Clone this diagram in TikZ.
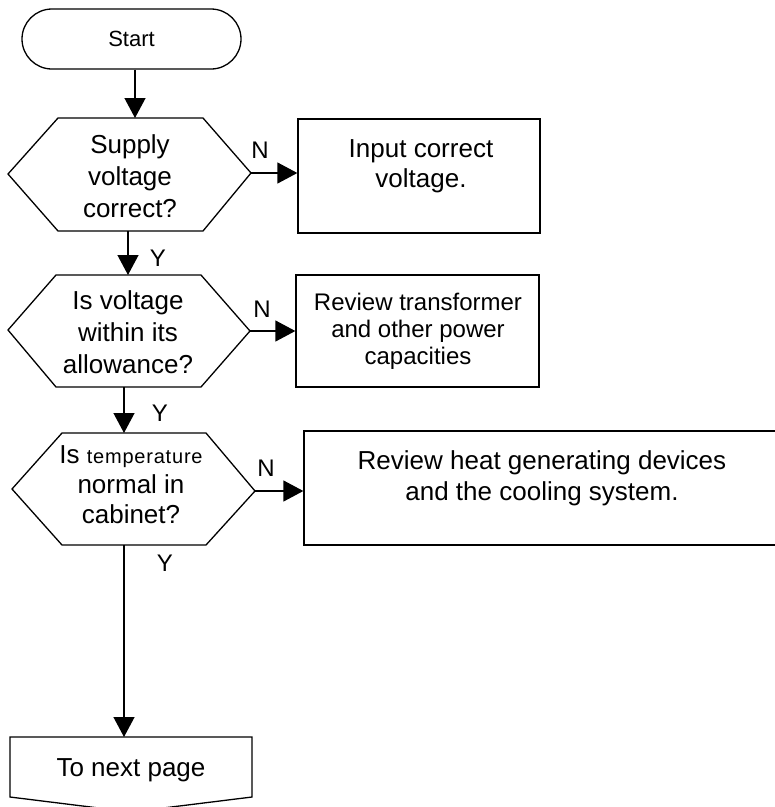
\documentclass[tikz,border=0pt]{standalone}
\usepackage{fontspec}
\setmainfont{Liberation Sans}
\usetikzlibrary{arrows.meta,shapes.misc}
\begin{document}
\begin{tikzpicture}[x=1pt,y=-1pt,
  every path/.style={line width=1.3pt},
  arr/.style={-{Triangle[length=20pt,width=21pt]}},
  txt/.style={align=center,inner sep=0pt,font=\fontsize{26}{32}\selectfont},
  smtxt/.style={align=center,inner sep=0pt,font=\fontsize{24}{27}\selectfont},
  lbl/.style={inner sep=0pt,font=\fontsize{24}{28}\selectfont},
  boxshape/.style={draw,rectangle,inner sep=0pt}]
\useasboundingbox (0,0) rectangle (775,807);

% Start terminal
\node[draw,rounded rectangle,minimum width=219pt,minimum height=60pt,inner sep=0pt,
      font=\fontsize{22}{26}\selectfont] (start) at (131.5,39) {Start};

% Hexagon 1
\coordinate (h1l) at (8,174);
\coordinate (h1tl) at (58,118);
\coordinate (h1t) at (135,118);
\coordinate (h1tr) at (203,118);
\coordinate (h1r) at (251,173);
\coordinate (h1br) at (203,231);
\coordinate (h1b) at (128,231);
\coordinate (h1bl) at (58,231);
\draw (h1l) -- (h1tl) -- (h1tr) -- (h1r) -- (h1br) -- (h1bl) -- cycle;
\node[txt] (d1) at (130,176) {Supply\\voltage\\correct?};

% Box 1
\node[boxshape,minimum width=242pt,minimum height=114pt] (b1) at (419,176) {};
\node[txt,font=\fontsize{26}{30}\selectfont] (b1t) at (421,166) {Input correct\\voltage.};

% Hexagon 2
\coordinate (h2l) at (8,330);
\coordinate (h2tl) at (56,275);
\coordinate (h2t) at (128,275);
\coordinate (h2tr) at (201,275);
\coordinate (h2r) at (250,331);
\coordinate (h2br) at (201,387);
\coordinate (h2b) at (124,387);
\coordinate (h2bl) at (56,387);
\draw (h2l) -- (h2tl) -- (h2tr) -- (h2r) -- (h2br) -- (h2bl) -- cycle;
\node[txt] (d2) at (128,332) {Is voltage\\within its\\allowance?};

% Box 2
\node[boxshape,minimum width=243pt,minimum height=112pt] (b2) at (417.5,331) {};
\node[smtxt] (b2t) at (418,331) {Review transformer\\and other power\\capacities};

% Hexagon 3
\coordinate (h3l) at (12,489);
\coordinate (h3tl) at (62,433);
\coordinate (h3t) at (124,433);
\coordinate (h3tr) at (206,433);
\coordinate (h3r) at (255,491);
\coordinate (h3br) at (206,545);
\coordinate (h3b) at (124,545);
\coordinate (h3bl) at (62,545);
\draw (h3l) -- (h3tl) -- (h3tr) -- (h3r) -- (h3br) -- (h3bl) -- cycle;
\node[txt,font=\fontsize{26}{30}\selectfont] (d3) at (131,485)
  {Is {\fontsize{20}{24}\selectfont\addfontfeature{LetterSpace=4}temperature}\\normal in\\cabinet?};

% Box 3
\node[boxshape,minimum width=480pt,minimum height=114pt] (b3) at (544,488) {};
\node[txt,font=\fontsize{26}{31}\selectfont] (b3t) at (542,478)
  {Review heat generating devices\\and the cooling system.};

% Off-page connector
\coordinate (o1) at (10,737);
\coordinate (ot) at (124,737);
\coordinate (o2) at (252,737);
\coordinate (o3) at (252,797);
\coordinate (o4) at (131,812);
\coordinate (o5) at (10,797);
\draw (o1) -- (o2) -- (o3) -- (o4) -- (o5) -- cycle;
\node[txt] (off) at (131,770) {To next page};

% Connectors
\draw[arr] (start.south -| h1t) -- (h1t);
\draw[arr] (h1r) -- (h1r -| b1.west);
\draw[arr] (h1b) -- (h2t);
\draw[arr] (h2r) -- (h2r -| b2.west);
\draw[arr] (h2b) -- (h3t);
\draw[arr] (h3r) -- (h3r -| b3.west);
\draw[arr] (h3b) -- (ot);

% Labels
\node[lbl] (n1) at (260,150) {N};
\node[lbl] (y1) at (158,258) {Y};
\node[lbl] (n2) at (262,309) {N};
\node[lbl] (y2) at (160,413) {Y};
\node[lbl] (n3) at (266,468) {N};
\node[lbl] (y3) at (165,563) {Y};
\end{tikzpicture}
\end{document}
